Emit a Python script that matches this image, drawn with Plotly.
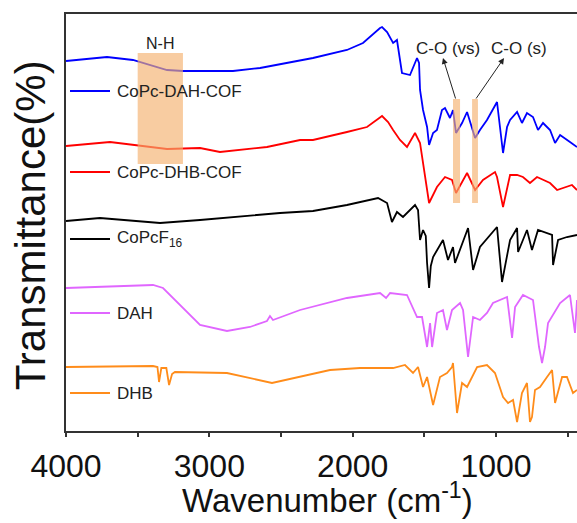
import plotly.graph_objects as go

# ---------------- data (wavenumber in cm^-1, offset transmittance a.u.) ----------------
blue_wn = [4000,3714,3533,3295,3184,2835,2646,2367,2277,2040,1928,1809,1795,1760,1718,1691,1656,1600,1551,1537,
           1530,1509,1481,1467,1439,1412,1377,1356,1321,1300,1279,1237,1202,1146,1112,1063,993,951,923,902,
           853,819,784,742,707,672,623,588,553,484,435]
blue_t = [370,374,371,361,360,360,363,370,373,381,388,403,404,399,388,391,358,356,373,368,
          341,321,304,286,298,301,321,323,313,321,298,308,319,293,301,311,329,278,304,311,
          319,308,318,314,301,308,301,288,296,289,284]

red_wn = [4000,3693,3295,3065,2926,2598,2367,2277,2040,1900,1795,1753,1718,1670,1621,1565,1530,1481,1467,1412,
          1356,1307,1279,1202,1146,1091,1007,993,951,902,853,812,763,714,623,574,505,470,435]
red_t = [285,289,282,283,279,284,291,291,299,304,315,309,301,291,284,298,288,244,228,244,
         254,251,238,258,241,251,259,254,224,256,256,254,248,254,248,241,244,246,241]

black_wn = [4000,3763,3344,3065,2507,2367,2277,2040,1823,1760,1726,1691,1649,1565,1544,1530,1509,1490,1481,1467,
            1455,1439,1370,1335,1300,1286,1195,1160,1112,993,958,902,853,846,784,749,707,609,602,567,505,435]
black_t = [210,213,208,211,218,219,220,226,233,228,209,219,214,226,221,191,201,195,168,143,
           165,174,191,171,184,168,203,161,184,204,149,191,203,179,201,181,201,196,166,191,194,196]

dah_wn = [4000,3393,3323,3240,3065,2877,2717,2598,2577,2556,2367,2040,1809,1767,1739,1621,1551,1516,1481,1460,
          1446,1412,1370,1342,1307,1251,1230,1195,1160,1112,1063,1021,923,888,867,812,742,700,679,658,
          637,553,484,449,435]
dah_t = [143,146,143,131,106,100,104,110,115,111,121,133,138,133,138,136,114,114,84,108,
         84,118,121,101,121,128,121,74,114,111,118,128,134,93,124,136,131,84,68,84,
         108,128,136,98,131]

dhb_wn = [4000,3393,3362,3351,3335,3300,3281,3260,3240,2877,2563,2158,1949,1718,1635,1579,1544,1509,1481,1439,
          1391,1342,1307,1300,1272,1237,1202,1167,1132,1063,1007,951,916,881,853,819,784,763,749,728,
          693,644,609,588,539,505,463,435]
dhb_t = [64,65,64,49,63,63,46,57,59,58,48,61,63,63,66,58,64,44,54,26,
         54,58,64,68,18,48,44,54,64,66,58,34,28,31,9,38,48,9,14,41,
         44,54,61,28,54,54,38,41]

series_names = ["CoPc-DAH-COF", "CoPc-DHB-COF", "CoPcF<sub>16</sub>", "DAH", "DHB"]
series_colors = ["#0000FF", "#FF0000", "#000000", "#E066FF", "#FF8C1A"]
series_x = [blue_wn, red_wn, black_wn, dah_wn, dhb_wn]
series_y = [blue_t, red_t, black_t, dah_t, dhb_t]
legend_y = [340, 259, 192, 118, 38]

# highlighted bands
band_x = [(3500, 3184), (1300, 1251), (1167, 1126)]
band_y = [(267, 378), (228, 332), (228, 332)]

FONT = "Liberation Sans, Arial, sans-serif"

fig = go.Figure()
for x, y, c, n in zip(series_x, series_y, series_colors, series_names):
    fig.add_trace(go.Scatter(x=x, y=y, mode="lines", line=dict(color=c, width=1.8),
                             name=n, showlegend=False))

shapes = []
for (x0, x1), (y0, y1) in zip(band_x, band_y):
    shapes.append(dict(type="rect", xref="x", yref="y", x0=x0, x1=x1, y0=y0, y1=y1,
                       fillcolor="rgba(244,177,110,0.65)", line=dict(width=0), layer="above"))

annotations = []
for c, n, ly in zip(series_colors, series_names, legend_y):
    shapes.append(dict(type="line", xref="x", yref="y", x0=3972, x1=3693, y0=ly, y1=ly,
                       line=dict(color=c, width=1.8)))
    annotations.append(dict(x=3658, y=ly, xref="x", yref="y", text=n, showarrow=False,
                            xanchor="left", yanchor="middle",
                            font=dict(family=FONT, size=17, color="#222")))

annotations += [
    dict(x=3342, y=388, xref="x", yref="y", text="N-H", showarrow=False,
         font=dict(family=FONT, size=16, color="#222")),
    dict(x=1335, y=383, xref="x", yref="y", text="C-O (vs)", showarrow=False,
         font=dict(family=FONT, size=17, color="#222")),
    dict(x=839, y=383, xref="x", yref="y", text="C-O (s)", showarrow=False,
         font=dict(family=FONT, size=17, color="#222")),
    dict(x=1370, y=373, ax=1279, ay=331, xref="x", yref="y", axref="x", ayref="y",
         text="", showarrow=True, arrowhead=2, arrowsize=1.2, arrowwidth=1, arrowcolor="#222"),
    dict(x=944, y=373, ax=1146, ay=331, xref="x", yref="y", axref="x", ayref="y",
         text="", showarrow=True, arrowhead=2, arrowsize=1.2, arrowwidth=1, arrowcolor="#222"),
    dict(x=-0.07, y=0.494, xref="paper", yref="paper", text="Transmittance(%)",
         textangle=-90, showarrow=False, xanchor="center", yanchor="middle",
         font=dict(family=FONT, size=42, color="#111")),
    dict(x=0.511, y=-0.16, xref="paper", yref="paper", text="Wavenumber (cm<sup>-1</sup>)",
         showarrow=False, xanchor="center", yanchor="middle",
         font=dict(family=FONT, size=33, color="#111")),
]

fig.update_layout(
    width=577, height=523,
    margin=dict(l=66, r=0, t=14, b=92),
    paper_bgcolor="white", plot_bgcolor="white",
    shapes=shapes, annotations=annotations,
    showlegend=False,
    font=dict(family=FONT, color="#111"),
)
fig.update_xaxes(range=[4000, 435], showgrid=False, zeroline=False,
                 showline=True, linecolor="#333", linewidth=1.5, mirror=True,
                 tickmode="array", tickvals=[4000, 3000, 2000, 1000],
                 ticks="outside", ticklen=4, tickwidth=1.5, tickcolor="#333",
                 ticklabelstandoff=2,
                 tickfont=dict(family=FONT, size=32, color="#111"),
                 minor=dict(tickmode="array", tickvals=[3500, 2500, 1500, 500],
                            ticks="outside", ticklen=4, tickwidth=1.5, tickcolor="#333"))
fig.update_yaxes(range=[0, 417], showgrid=False, zeroline=False,
                 showline=True, linecolor="#333", linewidth=1.5, mirror=False,
                 showticklabels=False, ticks="")

fig.write_html("out.html")
